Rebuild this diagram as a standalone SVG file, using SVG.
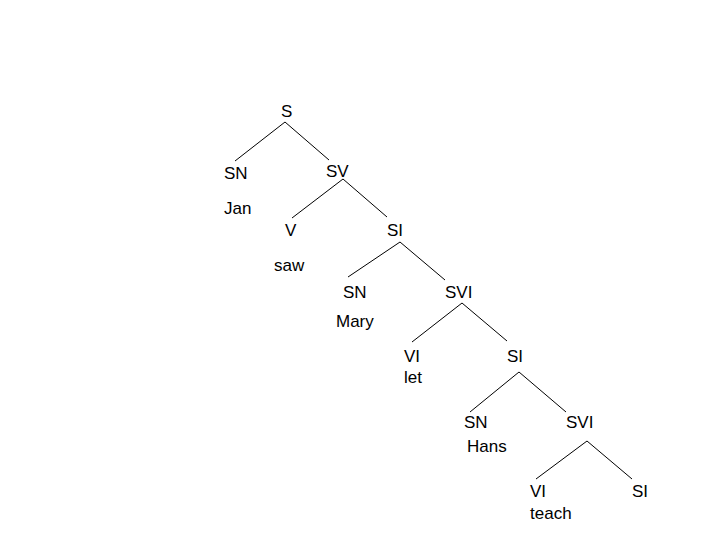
<svg xmlns="http://www.w3.org/2000/svg" width="720" height="540" viewBox="0 0 720 540">
<style>
text{font-family:"Liberation Sans",Arial,sans-serif;font-size:17px;fill:#000}
.e line{stroke:#000;stroke-width:1}
</style>
<rect width="720" height="540" fill="#fff"/>
<g class="e" id="edges">
<line x1="285" y1="122" x2="235" y2="161"/>
<line x1="285" y1="122" x2="329" y2="160"/>
<line x1="343" y1="179" x2="292" y2="218"/>
<line x1="343" y1="179" x2="387" y2="217"/>
<line x1="400" y1="242" x2="348" y2="277"/>
<line x1="400" y1="242" x2="445" y2="280"/>
<line x1="462" y1="303" x2="412" y2="342"/>
<line x1="462" y1="303" x2="507" y2="341"/>
<line x1="519" y1="372" x2="470" y2="412"/>
<line x1="519" y1="372" x2="566" y2="412"/>
<line x1="587" y1="441" x2="536" y2="479"/>
<line x1="587" y1="441" x2="632" y2="479"/>
</g>
<g id="n-S"><text x="281" y="117">S</text></g>
<g id="n-SN1"><text x="224" y="179">SN</text><text x="224" y="214">Jan</text></g>
<g id="n-SV"><text x="326" y="177">SV</text></g>
<g id="n-V"><text x="285" y="236">V</text><text x="274" y="271">saw</text></g>
<g id="n-SI1"><text x="387" y="236">SI</text></g>
<g id="n-SN2"><text x="343" y="298">SN</text><text x="336" y="327">Mary</text></g>
<g id="n-SVI1"><text x="445" y="298">SVI</text></g>
<g id="n-VI1"><text x="404" y="362">VI</text><text x="404" y="383">let</text></g>
<g id="n-SI2"><text x="507" y="362">SI</text></g>
<g id="n-SN3"><text x="464" y="428">SN</text><text x="467" y="452">Hans</text></g>
<g id="n-SVI2"><text x="566" y="428">SVI</text></g>
<g id="n-VI2"><text x="530" y="497">VI</text><text x="530" y="519">teach</text></g>
<g id="n-SI3"><text x="632" y="497">SI</text></g>
</svg>
